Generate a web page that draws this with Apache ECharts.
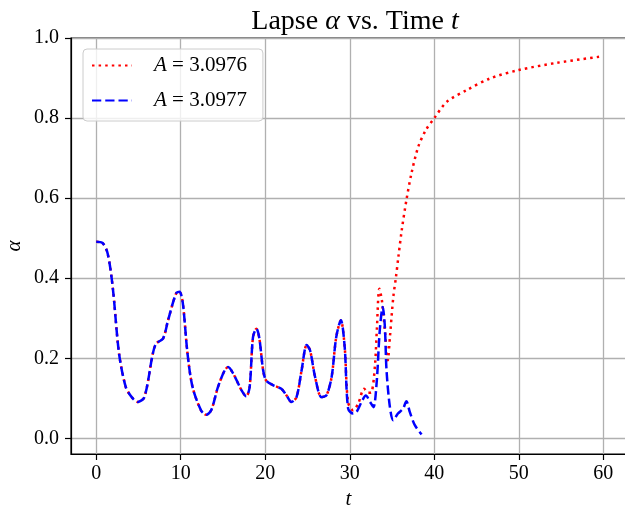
<!DOCTYPE html>
<html>
<head>
<meta charset="utf-8">
<script src="https://cdn.jsdelivr.net/npm/echarts@6/dist/echarts.min.js"></script>
<style>
  html, body { margin: 0; padding: 0; background: #fff; }
  #chart { width: 625px; height: 505px; }
</style>
</head>
<body>
<div id="chart"></div>
<script>
// common part: both runs coincide until t ~ 29.4
var sharedT = [0, 0.75, 1.35, 1.95, 2.7, 3.5, 4.2, 4.9, 5.7, 6.7, 7.1, 7.9, 8.5, 9.45, 9.85, 10.25,
  10.8, 11.4, 12.4, 13.0, 13.6, 14.4, 15.2, 15.6, 16.2, 17.2, 17.75, 18.15, 18.55, 18.95, 19.3,
  19.75, 20.1, 20.9, 21.9, 22.5, 23.1, 23.7, 24.3, 24.9, 25.3, 25.9, 26.65, 27.25, 27.85, 28.4,
  28.95, 29.4];
var sharedAlpha = [0.491, 0.488, 0.462, 0.378, 0.212, 0.128, 0.103, 0.091, 0.103, 0.212, 0.237, 0.249,
  0.295, 0.362, 0.366, 0.337, 0.212, 0.128, 0.07, 0.059, 0.07, 0.128, 0.17, 0.178, 0.162, 0.12,
  0.105, 0.128, 0.253, 0.274, 0.25, 0.17, 0.145, 0.133, 0.124, 0.108, 0.091, 0.103, 0.17, 0.233,
  0.22, 0.153, 0.103, 0.108, 0.153, 0.253, 0.295, 0.228];

// A = 3.0976 (red): lapse recovers
var tailT976 = [29.8, 30.4, 31.0, 31.7, 32.2, 32.6, 33.0, 33.2, 33.5, 33.8, 34.15, 34.5, 34.75, 35.15,
  35.45, 35.75, 36.15, 36.7, 37.3, 38.1, 39.0, 40.0, 41.5, 43.85, 46.6, 50.0, 54.5, 59.5];
var tailAlpha976 = [0.09, 0.07, 0.087, 0.124, 0.114, 0.116, 0.187, 0.27, 0.374, 0.345, 0.27, 0.195,
  0.253, 0.353, 0.40, 0.453, 0.52, 0.595, 0.662, 0.728, 0.77, 0.80, 0.841, 0.87, 0.899, 0.92,
  0.938, 0.953];

// A = 3.0977 (blue): collapse
var tailT977 = [29.8, 30.4, 30.8, 31.4, 31.9, 32.4, 32.8, 33.2, 33.55, 33.9, 34.15, 34.35, 34.75,
  35.15, 35.7, 36.3, 36.7, 37.1, 37.7, 38.5];
var tailAlpha977 = [0.075, 0.062, 0.066, 0.091, 0.107, 0.091, 0.078, 0.145, 0.27, 0.328, 0.28, 0.17,
  0.078, 0.045, 0.062, 0.074, 0.093, 0.066, 0.033, 0.01];

var xTicks = [0, 10, 20, 30, 40, 50, 60];
var yTicks = [0, 0.2, 0.4, 0.6, 0.8, 1.0];

var serif = 'Liberation Serif';

function pairs(ts, vs) {
  var out = [];
  for (var i = 0; i < ts.length; i++) {
    out.push([ts[i], vs[i]]);
  }
  return out;
}

var red = pairs(sharedT, sharedAlpha).concat(pairs(tailT976, tailAlpha976));
var blue = pairs(sharedT, sharedAlpha).concat(pairs(tailT977, tailAlpha977));

var chart = echarts.init(document.getElementById('chart'), null, {renderer: 'canvas'});

var options = {
  backgroundColor: '#fff',
  animation: false,
  title: {
    text: 'Lapse {i|α} vs. Time {i|t}',
    left: 350,
    top: 3,
    textAlign: 'center',
    textStyle: {
      fontFamily: serif,
      fontSize: 28,
      fontWeight: 'normal',
      color: '#000',
      rich: {
        i: {fontFamily: serif, fontSize: 28, fontStyle: 'italic', color: '#000'}
      }
    }
  },
  legend: {
    orient: 'vertical',
    left: 83,
    top: 49,
    padding: [6, 16, 10, 8],
    itemGap: 14,
    itemWidth: 40,
    itemHeight: 20,
    backgroundColor: 'rgba(255,255,255,0.8)',
    borderColor: '#cccccc',
    borderWidth: 1,
    borderRadius: 4,
    selectedMode: false,
    itemStyle: {opacity: 0, borderWidth: 0},
    formatter: function (name) {
      return '{i|A}' + name.slice(1);
    },
    textStyle: {
      fontFamily: serif,
      fontSize: 21,
      color: '#000',
      padding: [0, 0, 0, 17],
      rich: {
        i: {fontFamily: serif, fontSize: 21, fontStyle: 'italic', color: '#000'}
      }
    },
    data: ['A = 3.0976', 'A = 3.0977']
  },
  grid: {
    left: 71,
    top: 38,
    width: 555,
    height: 416,
    outerBoundsMode: 'none',
    containLabel: false,
    show: true,
    borderColor: '#000',
    borderWidth: 1.2,
    backgroundColor: 'transparent'
  },
  xAxis: {
    type: 'value',
    min: -2.985,
    max: 62.685,
    name: 't',
    nameLocation: 'middle',
    nameGap: 35,
    nameTextStyle: {fontFamily: serif, fontSize: 21, fontStyle: 'italic', color: '#000'},
    axisLine: {show: true, onZero: false, lineStyle: {color: '#000', width: 1.2}},
    axisTick: {show: true, length: 6, customValues: xTicks, lineStyle: {color: '#000', width: 1.2}},
    axisLabel: {
      customValues: xTicks,
      margin: 10,
      fontFamily: serif,
      fontSize: 20,
      color: '#000'
    },
    splitLine: {show: true, lineStyle: {color: '#b0b0b0', width: 1.3}}
  },
  yAxis: {
    type: 'value',
    min: -0.039,
    max: 1.0,
    name: 'α',
    nameLocation: 'middle',
    nameGap: 46,
    nameMoveOverlap: false,
    nameRotate: 90,
    nameTextStyle: {fontFamily: serif, fontSize: 21, fontStyle: 'italic', color: '#000'},
    axisLine: {show: true, onZero: false, lineStyle: {color: '#000', width: 1.2}},
    axisTick: {show: true, length: 6, customValues: yTicks, lineStyle: {color: '#000', width: 1.2}},
    axisLabel: {
      customValues: yTicks,
      margin: 12,
      fontFamily: serif,
      fontSize: 20,
      color: '#000',
      formatter: function (v) { return v.toFixed(1); }
    },
    splitLine: {show: true, lineStyle: {color: '#b0b0b0', width: 1.3}}
  },
  series: [
    {
      name: 'A = 3.0976',
      type: 'line',
      data: red,
      symbol: 'none',
      smooth: 0.3,
      z: 2,
      lineStyle: {color: '#ff0000', width: 2.5, type: [2.5, 4.1]},
      itemStyle: {color: '#ff0000'}
    },
    {
      name: 'A = 3.0977',
      type: 'line',
      data: blue,
      symbol: 'none',
      smooth: 0.3,
      z: 3,
      lineStyle: {color: '#0000ff', width: 2.5, type: [9.25, 4]},
      itemStyle: {color: '#0000ff'}
    }
  ]
};

chart.setOption(options);
</script>
</body>
</html>
